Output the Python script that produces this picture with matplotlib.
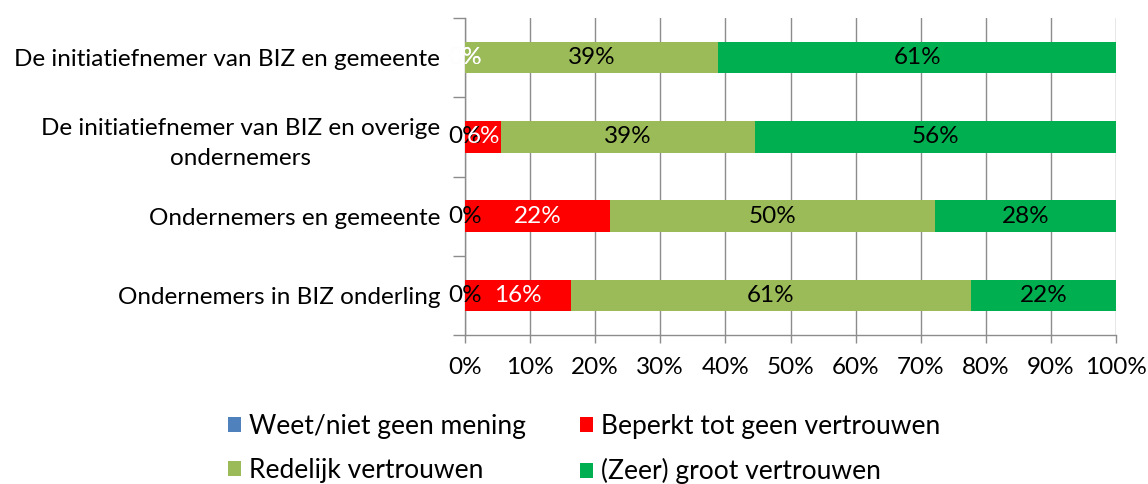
import matplotlib.pyplot as plt
import numpy as np

plt.rcParams['font.family'] = ['Lato', 'DejaVu Sans']

# data
categories = [
    "De initiatiefnemer van BIZ en gemeente",
    "De initiatiefnemer van BIZ en overige\nondernemers",
    "Ondernemers en gemeente",
    "Ondernemers in BIZ onderling",
]
series_names = [
    "Weet/niet geen mening",
    "Beperkt tot geen vertrouwen",
    "Redelijk vertrouwen",
    "(Zeer) groot vertrouwen",
]
weet = [0.0, 0.0, 0.0, 0.0]
beperkt = [0.0, 5.6, 22.2, 16.3]
redelijk = [38.9, 38.9, 50.0, 61.4]
groot = [61.1, 55.6, 27.8, 22.3]
series_values = [weet, beperkt, redelijk, groot]

colors = ["#4F81BD", "#FF0000", "#9BBB59", "#00B050"]
label_colors = [["#F2F2F2", "black", "black", "black"], "white", "black", "black"]
grid_color = "#8C8C8C"
fs = 17.5

fig = plt.figure(figsize=(11.48, 4.84), dpi=100)
ax = fig.add_axes([465 / 1148, 1 - 335 / 484, (1116 - 465) / 1148, (335 - 18) / 484])

y = np.arange(len(categories))
left = np.zeros(len(categories))
containers = []
for name, vals, col in zip(series_names, series_values, colors):
    c = ax.barh(y, vals, left=left, height=0.4, color=col, label=name, zorder=3)
    containers.append(c)
    left = left + np.array(vals)

for c, vals, lc in zip(containers, series_values, label_colors):
    texts = ax.bar_label(c, labels=[f"{v:.0f}%" for v in vals], label_type='center',
                         fontsize=fs)
    for i, t in enumerate(texts):
        t.set_color(lc[i] if isinstance(lc, list) else lc)

ax.set_xlim(0, 100)
ax.set_ylim(3.5, -0.5)
ax.set_xticks(np.arange(0, 101, 10))
ax.set_xticklabels([f"{v}%" for v in range(0, 101, 10)], fontsize=fs)
ax.set_yticks(y)
ax.set_yticklabels(categories, fontsize=fs, ha='right', multialignment='center',
                   linespacing=1.55)
ax.set_yticks(np.arange(-0.5, 4, 1), minor=True)
ax.tick_params(axis='y', which='major', length=0, pad=18)
ax.tick_params(axis='y', which='minor', length=9, color=grid_color, width=1)
ax.tick_params(axis='x', length=6, color=grid_color, width=1, pad=10)
ax.grid(axis='x', color=grid_color, linewidth=1, zorder=0)

for s in ['top', 'right']:
    ax.spines[s].set_visible(False)
for s in ['left', 'bottom']:
    ax.spines[s].set_color(grid_color)
    ax.spines[s].set_linewidth(1)

# legend rows: Weet | Beperkt, then Redelijk | Zeer groot
handles = [containers[0], containers[2], containers[1], containers[3]]
labels = [series_names[0], series_names[2], series_names[1], series_names[3]]
fig.legend(handles, labels, ncol=2, loc='center', bbox_to_anchor=(584 / 1148, 1 - 449 / 484),
           frameon=False, fontsize=19, handlelength=0.5, handleheight=0.5,
           handletextpad=0.3, columnspacing=2.05, labelspacing=0.75)

fig.savefig("out.png", dpi=100)
